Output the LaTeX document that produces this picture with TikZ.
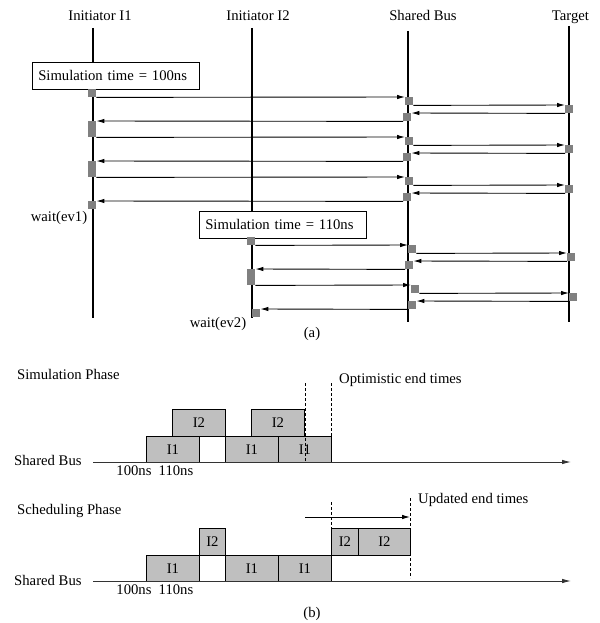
\documentclass[tikz,border=0pt]{standalone}
\usepackage{fontspec}
\setmainfont{Liberation Serif}
\usetikzlibrary{arrows.meta}
\begin{document}
\begin{tikzpicture}[x=1pt,y=-1pt,
  every node/.style={font=\fontsize{14.7}{17}\selectfont},
  life/.style={line width=1.4pt,black},
  msg/.style={line width=0.9pt,black,-{Latex[length=8pt,width=4.5pt]}},
  sq/.style={fill=black!50,draw=none,inner sep=0pt,minimum width=8pt,minimum height=8pt,anchor=north west},
  sqt/.style={sq,minimum height=16pt},
  tbox/.style={draw=black,line width=0.6pt,fill=white,anchor=north west,inner xsep=6pt,inner ysep=0pt,minimum height=27pt,text width=155pt,align=left},
  bar/.style={draw=black,line width=0.8pt,fill=black!25,inner sep=0pt,anchor=north west,minimum height=26.5pt},
  lbl/.style={anchor=base,inner sep=0pt},
  lbll/.style={anchor=base west,inner sep=0pt},
  dsh/.style={line width=0.7pt,dash pattern=on 3pt off 2pt},
  axis/.style={line width=0.9pt,black!80,-{Latex[length=9pt,width=4.5pt]}}
]
\useasboundingbox (0,0) rectangle (599,623);
% headers
\node[lbl] (hI1) at (100,20.5) {Initiator I1};
\node[lbl] (hI2) at (258,20.5) {Initiator I2};
\node[lbl] (hB) at (423,20.5) {Shared Bus};
\node[lbl] (hT) at (570.5,20.5) {Target};
% lifelines
\coordinate (l1t) at (93,28); \coordinate (l1b) at (93,318);
\coordinate (l2t) at (252,28); \coordinate (l2b) at (252,318);
\coordinate (l3t) at (408,31); \coordinate (l3b) at (408,322);
\coordinate (l4t) at (569,26); \coordinate (l4b) at (569,322);
\draw[life] (l1t) -- (l1b);
\draw[life] (l2t) -- (l2b);
\draw[life] (l3t) -- (l3b);
\draw[life] (l4t) -- (l4b);
% boxes
\node[tbox] (box1) at (32,62) {Simulation time = 100ns};
\node[tbox] (box2) at (199,211) {Simulation time = 110ns};
% squares top part
\node[sq] (a1) at (88,89) {};
\node[sqt] (a2) at (88,121) {};
\node[sqt] (a3) at (88,161) {};
\node[sq] (a4) at (88,201) {};
\node[sq] (b1) at (405,97) {};
\node[sq] (b2) at (403,113) {};
\node[sq] (b3) at (405,137) {};
\node[sq] (b4) at (403,153) {};
\node[sq] (b5) at (405,177) {};
\node[sq] (b6) at (403,193) {};
\node[sq] (t1) at (565,105) {};
\node[sq] (t2) at (565,145) {};
\node[sq] (t3) at (565,185) {};
\draw[msg] (a1.south east) -- (b1.north west);
\draw[msg] (b1.south east) -- (t1.north west);
\draw[msg] (t1.south west) -- (b2.north east);
\draw[msg] (b2.south west) -- (a2.north east);
\draw[msg] (a2.south east) -- (b3.north west);
\draw[msg] (b3.south east) -- (t2.north west);
\draw[msg] (t2.south west) -- (b4.north east);
\draw[msg] (b4.south west) -- (a3.north east);
\draw[msg] (a3.south east) -- (b5.north west);
\draw[msg] (b5.south east) -- (t3.north west);
\draw[msg] (t3.south west) -- (b6.north east);
\draw[msg] (b6.south west) -- (a4.north east);
% squares bottom part
\node[sq] (c1) at (247,237) {};
\node[sqt] (c2) at (247,269) {};
\node[sq] (c3) at (252,309) {};
\node[sq] (d1) at (408,245) {};
\node[sq] (d2) at (405,261) {};
\node[sq] (d3) at (411,285) {};
\node[sq] (d4) at (408,301) {};
\node[sq] (u1) at (567,253) {};
\node[sq] (u2) at (569,293) {};
\draw[msg] (c1.south east) -- (d1.north west);
\draw[msg] (d1.south east) -- (u1.north west);
\draw[msg] (u1.south west) -- (d2.north east);
\draw[msg] (d2.south west) -- (c2.north east);
\draw[msg] (c2.south east) -- (d3.north west);
\draw[msg] (d3.south east) -- (u2.north west);
\draw[msg] (u2.south west) -- (d4.north east);
\draw[msg] (d4.south west) -- (c3.north east);
\node[lbl] (w1) at (59,221.5) {wait(ev1)};
\node[lbl] (w2) at (218,327.5) {wait(ev2)};
\node[lbl] (capa) at (312,337.5) {(a)};
% ---------- part (b): simulation phase
\node[lbll] (simph) at (17,379) {Simulation Phase};
\node[lbll] (sb1) at (14,465) {Shared Bus};
\node[lbl] (t100a) at (134,475) {100ns};
\node[lbl] (t110a) at (176,475) {110ns};
\node[bar,minimum width=53pt] (p1) at (146,435.5) {I1};
\node[bar,minimum width=53pt] (p2) at (225,435.5) {I1};
\node[bar,minimum width=53pt] (p3) at (278,435.5) {I1};
\node[bar,minimum width=53pt] (p4) at (172,409) {I2};
\node[bar,minimum width=53pt] (p5) at (251,409) {I2};
\coordinate (ax1s) at (93,462); \coordinate (ax1e) at (571,462);
\draw[axis] (ax1s) -- (ax1e);
\coordinate (o1t) at (305,383); \coordinate (o1b) at (305,462);
\coordinate (o2t) at (331,383); \coordinate (o2b) at (331,462);
\draw[dsh] (o1t) -- (o1b);
\draw[dsh] (o2t) -- (o2b);
\node[lbll] (opt) at (339,383) {Optimistic end times};
% ---------- scheduling phase
\node[lbll] (schph) at (17,514) {Scheduling Phase};
\node[lbll] (sb2) at (14,585) {Shared Bus};
\node[lbl] (t100b) at (134,594) {100ns};
\node[lbl] (t110b) at (176,594) {110ns};
\node[bar,minimum width=53pt] (q1) at (146,554.5) {I1};
\node[bar,minimum width=53pt] (q2) at (225,554.5) {I1};
\node[bar,minimum width=53pt] (q3) at (278,554.5) {I1};
\node[bar,minimum width=26pt] (q4) at (199,528) {I2};
\node[bar,minimum width=27pt] (q5) at (331,528) {I2};
\node[bar,minimum width=52pt] (q6) at (358,528) {I2};
\coordinate (ax2s) at (93,581); \coordinate (ax2e) at (571,581);
\draw[axis] (ax2s) -- (ax2e);
\coordinate (u1t) at (331,502); \coordinate (u1b) at (331,581);
\coordinate (u2t) at (410,498); \coordinate (u2b) at (410,578);
\draw[dsh] (u1t) -- (u1b);
\draw[dsh] (u2t) -- (u2b);
\coordinate (shs) at (305,517); \coordinate (she) at (410,517);
\draw[msg] (shs) -- (she);
\node[lbll] (upd) at (418,503) {Updated end times};
\node[lbl] (capb) at (312,617) {(b)};
\end{tikzpicture}
\end{document}
